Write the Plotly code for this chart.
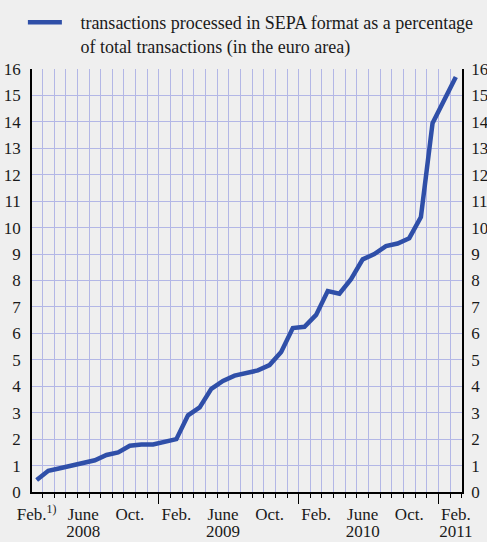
import plotly.graph_objects as go

months = list(range(37))  # Feb 2008 .. Feb 2011, monthly
values = [0.45, 0.8, 0.9, 1.0, 1.1, 1.2, 1.4, 1.5, 1.75, 1.8, 1.8, 1.9, 2.0,
          2.9, 3.2, 3.9, 4.2, 4.4, 4.5, 4.6, 4.8, 5.3, 6.2, 6.25, 6.7, 7.6,
          7.5, 8.05, 8.8, 9.0, 9.3, 9.4, 9.6, 10.4, 13.95, 14.85, 15.7]
month_pos = [0, 4, 8, 12, 16, 20, 24, 28, 32, 36]
month_text = ["Feb.<sup>1)</sup>", "June", "Oct.", "Feb.", "June",
              "Oct.", "Feb.", "June", "Oct.", "Feb."]
year_pos = [4, 16, 28, 36]
year_text = ["2008", "2009", "2010", "2011"]
year_breaks = [10.5, 22.5, 34.5]
PAD = "&nbsp;&nbsp;&nbsp;"
series_name = (PAD + "transactions processed in SEPA format as a percentage<br>"
               + PAD + "of total transactions (in the euro area)")

BG = "#efefef"
GRID = "#b3b7e6"
LINE = "#2f4fa8"
FAM = "Liberation Serif, Times New Roman, serif"
FONT = dict(family=FAM, size=17, color="#1a1a1a")
LFONT = dict(family=FAM, size=18, color="#1a1a1a")
XR = [-0.4, 36.53]
YR = [0, 16]

fig = go.Figure()
fig.add_trace(go.Scatter(x=months, y=values, mode="lines", name=series_name,
                         line=dict(color=LINE, width=4.5), showlegend=True))
fig.add_trace(go.Scatter(x=[months[0]], y=[values[0]], yaxis="y2", mode="lines",
                         line=dict(width=0), showlegend=False, hoverinfo="skip"))
fig.add_trace(go.Scatter(x=[months[0]], y=[values[0]], xaxis="x2", mode="lines",
                         line=dict(width=0), showlegend=False, hoverinfo="skip"))
fig.add_trace(go.Scatter(x=[months[0]], y=[values[0]], xaxis="x3", mode="lines",
                         line=dict(width=0), showlegend=False, hoverinfo="skip"))

fig.update_layout(
    width=487, height=542,
    paper_bgcolor=BG, plot_bgcolor=BG,
    margin=dict(l=32, r=25, t=69, b=50, autoexpand=False),
    font=FONT,
    showlegend=True,
    legend=dict(x=0.047, y=0.9926, xref="container", yref="container", xanchor="left",
                yanchor="top", bgcolor="rgba(0,0,0,0)", itemwidth=34, valign="top",
                font=LFONT, tracegroupgap=0),
    xaxis=dict(range=XR, tickmode="array", tickvals=month_pos, ticktext=month_text,
               showgrid=False, zeroline=False, showline=True, linecolor="black", linewidth=1.5,
               ticks="", ticklabelstandoff=6, tickfont=FONT,
               minor=dict(tick0=0.5, dtick=1, ticks="outside", ticklen=4, tickcolor="black",
                          tickwidth=1, showgrid=True, gridcolor=GRID, gridwidth=1.2),
               fixedrange=True),
    xaxis2=dict(range=XR, overlaying="x", tickmode="array", tickvals=year_breaks,
                ticktext=["", "", ""], ticks="outside", ticklen=11, tickcolor="black", tickwidth=1,
                showgrid=False, zeroline=False, showline=False, side="bottom", anchor="y"),
    xaxis3=dict(range=XR, overlaying="x", tickmode="array", tickvals=year_pos,
                ticktext=year_text, ticks="outside", ticklen=3, tickcolor="rgba(0,0,0,0)",
                ticklabelstandoff=21, tickfont=FONT,
                showgrid=False, zeroline=False, showline=False, side="bottom", anchor="y"),
    yaxis=dict(range=YR, tickmode="linear", tick0=0, dtick=1, showgrid=True, tickfont=FONT,
               gridcolor=GRID, gridwidth=1.2, zeroline=False, showline=True,
               linecolor="black", linewidth=1.5, ticks="", ticklabelstandoff=6),
    yaxis2=dict(range=YR, overlaying="y", side="right", tickmode="linear", tick0=0, dtick=1,
                showgrid=False, zeroline=False, showline=True, linecolor="black", tickfont=FONT,
                linewidth=1.5, ticks="", ticklabelstandoff=4),
)

fig.write_html("out.html", config={"displayModeBar": False},
               post_script="document.body.style.margin='0px';"
                           "document.body.style.background='#efefef';")
